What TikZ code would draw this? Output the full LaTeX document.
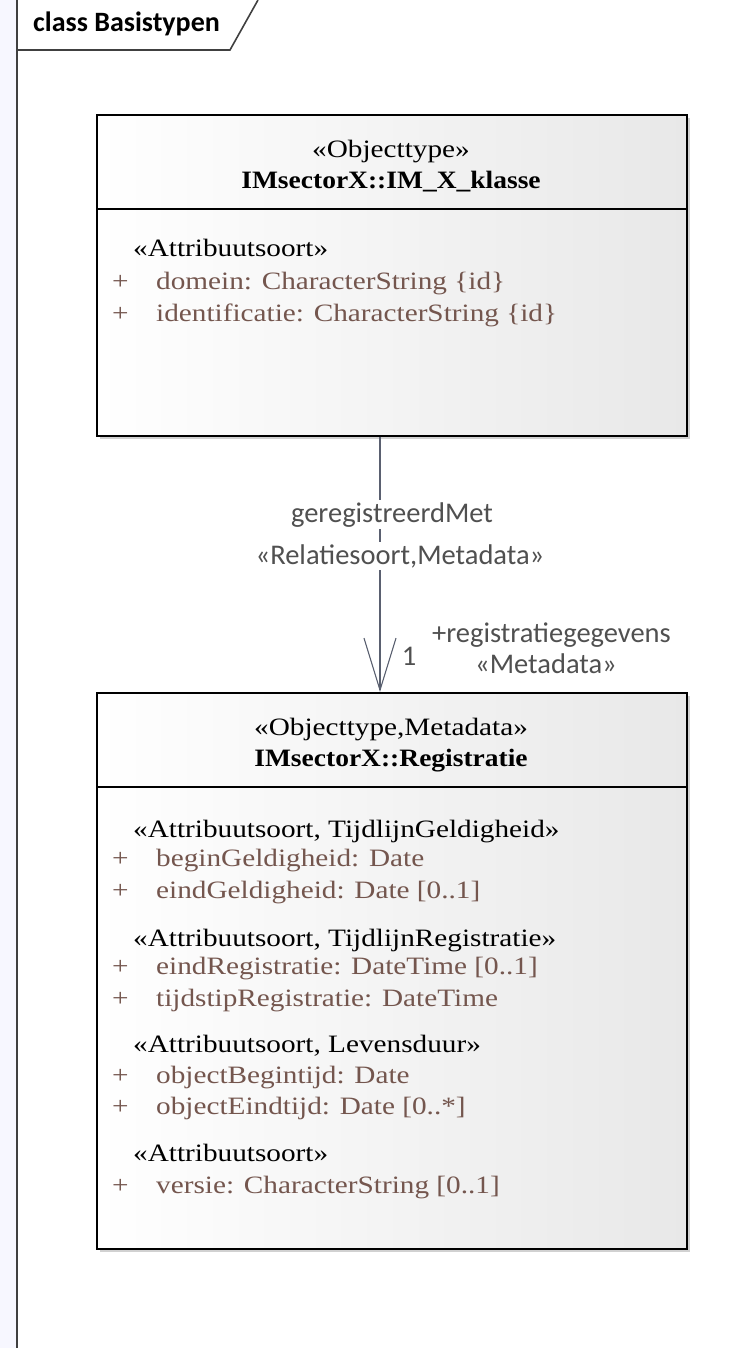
\documentclass[tikz,border=0pt]{standalone}
\usepackage{fontspec}
\setmainfont{Liberation Serif}
\newfontfamily\boxfont[FakeStretch=1.17]{Liberation Serif}
\newfontfamily\boxfontb[FakeStretch=1.10]{Liberation Serif}
\newfontfamily\calib{Carlito}
\usetikzlibrary{arrows.meta,shadows}
\definecolor{attr}{HTML}{74564E}
\definecolor{conn}{HTML}{5A6070}
\definecolor{framec}{HTML}{404040}
\definecolor{lbl}{HTML}{505050}
\tikzset{
  classbox/.style={draw=black, line width=1.6pt, left color=white, right color=black!9,
    drop shadow={shadow xshift=3.5pt, shadow yshift=-3.5pt, fill=black!40, opacity=0.45}},
  sepline/.style={draw=black, line width=1.6pt},
  hdr/.style={anchor=base, inner sep=0pt, font=\boxfont\fontsize{25}{28}\selectfont},
  hdrb/.style={anchor=base, inner sep=0pt, font=\boxfontb\bfseries\fontsize{25}{28}\selectfont},
  stereo/.style={anchor=base west, inner sep=0pt, font=\boxfont\fontsize{25}{28}\selectfont},
  attrl/.style={anchor=base west, inner sep=0pt, text=attr, font=\boxfont\fontsize{25}{28}\selectfont},
  conlabel/.style={inner sep=2pt, text=lbl, font=\calib\fontsize{28.5}{32}\selectfont},
  assoc/.style={draw=conn, line width=1.1pt, -{Straight Barb[length=52pt,width=32pt,line width=1.1pt]}},
  frameline/.style={draw=framec, line width=1.6pt}
}
\begin{document}
\begin{tikzpicture}[x=1pt,y=-1pt]
\useasboundingbox (0,0) rectangle (741,1348);
\fill[blue!3] (0,0) rectangle (17,1348);
\draw[frameline] (17,1348) -- (17,0);
\draw[frameline] (17,50) -- (230,50) -- (258,0);
\node[anchor=base west, inner sep=0pt, font=\calib\bfseries\fontsize{28}{32}\selectfont] (title) at (33,32) {class Basistypen};

% class 1
\node[classbox, minimum width=590pt, minimum height=321pt, anchor=north west, inner sep=0pt] (c1) at (96,114) {};
\draw[sepline] ([yshift=-95pt]c1.north west) -- ([yshift=-95pt]c1.north east);
\node[hdr] (c1s) at (391,158) {«Objecttype»};
\node[hdrb] (c1n) at (391,189) {IMsectorX::IM\_X\_klasse};
\node[stereo] (c1g) at (133,257) {«Attribuutsoort»};
\node[attrl] (c1p1) at (112,289) {+};
\node[attrl] (c1a1) at (156,289) {domein: CharacterString \{id\}};
\node[attrl] (c1p2) at (112,321) {+};
\node[attrl] (c1a2) at (156,321) {identificatie: CharacterString \{id\}};

% class 2
\node[classbox, minimum width=590pt, minimum height=556pt, anchor=north west, inner sep=0pt] (c2) at (96,692) {};
\draw[sepline] ([yshift=-95pt]c2.north west) -- ([yshift=-95pt]c2.north east);
\node[hdr] (c2s) at (391,735) {«Objecttype,Metadata»};
\node[hdrb] (c2n) at (391,766) {IMsectorX::Registratie};
\node[stereo] (g1) at (133,837) {«Attribuutsoort, TijdlijnGeldigheid»};
\node[attrl] (p1) at (112,866) {+};
\node[attrl] (a1) at (156,866) {beginGeldigheid: Date};
\node[attrl] (p2) at (112,898) {+};
\node[attrl] (a2) at (156,898) {eindGeldigheid: Date [0..1]};
\node[stereo] (g2) at (133,946) {«Attribuutsoort, TijdlijnRegistratie»};
\node[attrl] (p3) at (112,974) {+};
\node[attrl] (a3) at (156,974) {eindRegistratie: DateTime [0..1]};
\node[attrl] (p4) at (112,1006) {+};
\node[attrl] (a4) at (156,1006) {tijdstipRegistratie: DateTime};
\node[stereo] (g3) at (133,1052) {«Attribuutsoort, Levensduur»};
\node[attrl] (p5) at (112,1083) {+};
\node[attrl] (a5) at (156,1083) {objectBegintijd: Date};
\node[attrl] (p6) at (112,1114) {+};
\node[attrl] (a6) at (156,1114) {objectEindtijd: Date [0..*]};
\node[stereo] (g4) at (133,1161) {«Attribuutsoort»};
\node[attrl] (p7) at (112,1193) {+};
\node[attrl] (a7) at (156,1193) {versie: CharacterString [0..1]};

% association
\coordinate (p) at (380,0);
\draw[assoc] (c1.south -| p) -- (c2.north -| p);
\node[conlabel, fill=white, anchor=base] (ln) at (392,522) {geregistreerdMet};
\node[conlabel, fill=white, anchor=base] (ls) at (400,564) {«Relatiesoort,Metadata»};
\node[conlabel, anchor=base west, inner sep=0pt] (rn) at (432,642) {+registratiegegevens};
\node[conlabel, anchor=base, inner sep=0pt] (rs) at (546,673) {«Metadata»};
\node[conlabel, anchor=base, inner sep=0pt] (m) at (409,665) {1};
\end{tikzpicture}
\end{document}
